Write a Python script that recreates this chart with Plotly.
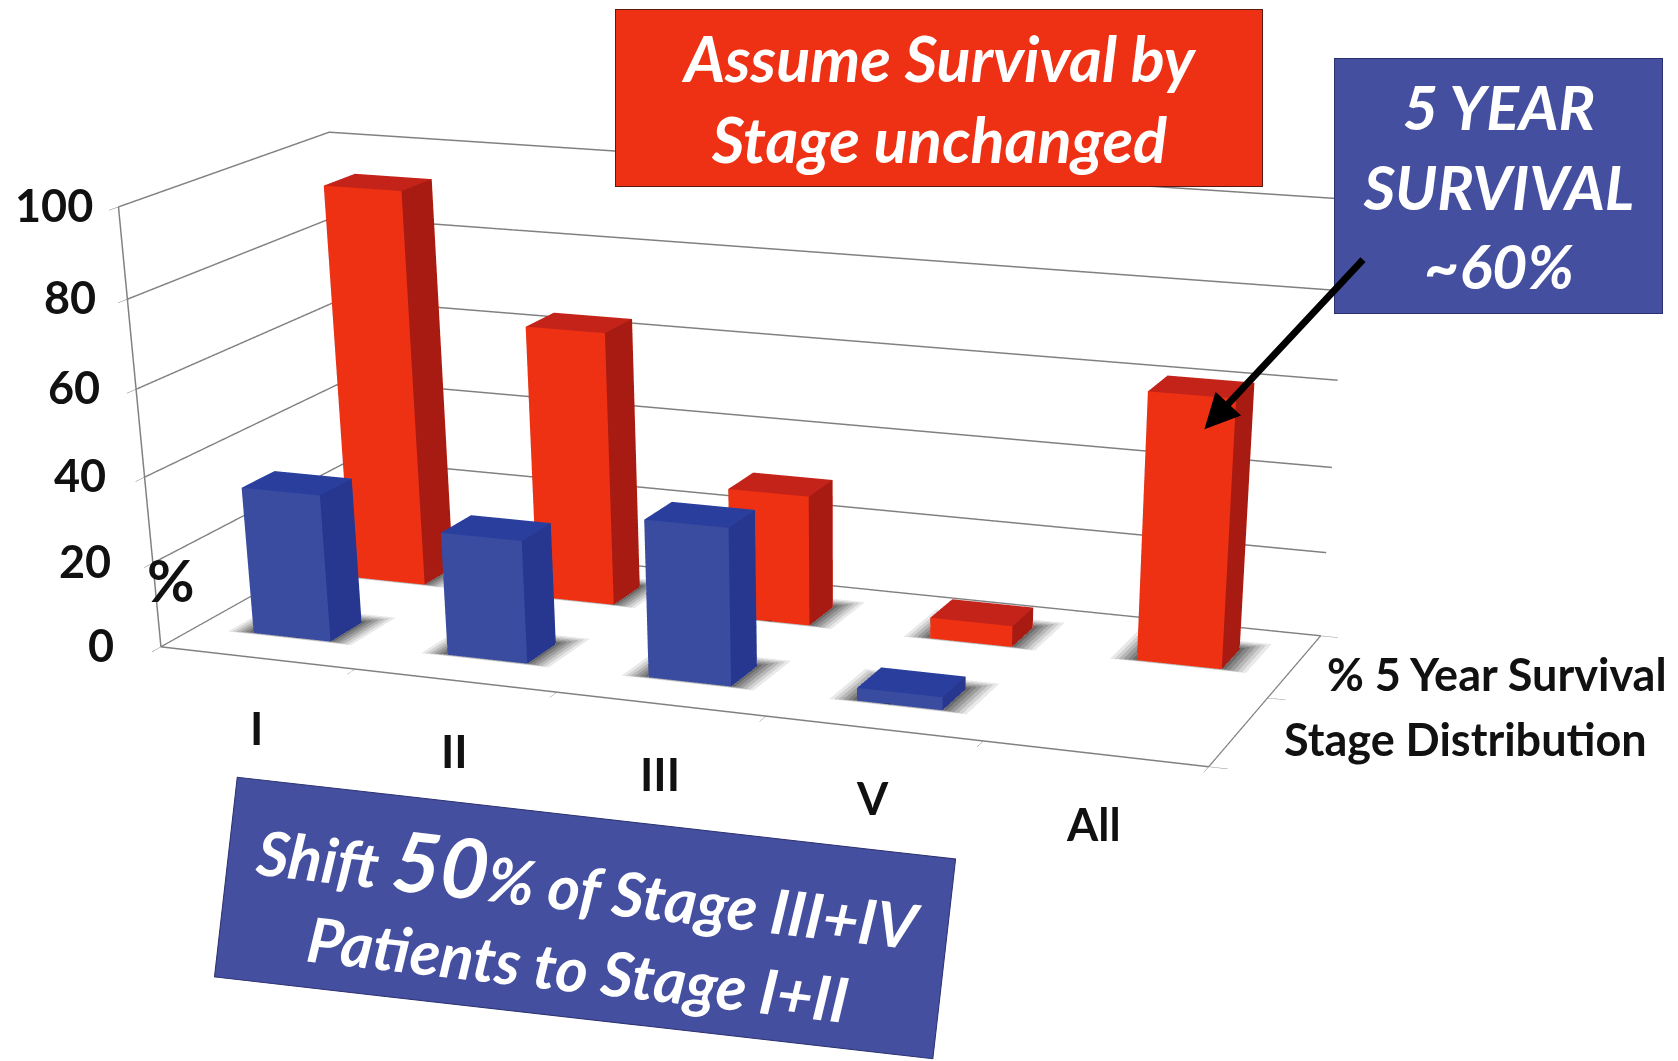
import plotly.graph_objects as go

categories = ["I", "II", "III", "V", "All"]
series_names = ["Stage Distribution", "% 5 Year Survival"]
stage_distribution = [34.7, 28.8, 36.5, 3, None]
five_year_survival = [94, 65, 31, 5, 62]
z_ticks = [0, 20, 40, 60, 80, 100]

RED = ("#EE3112", "#A81B13", "#C4231A")
BLUE = ("#3A4CA0", "#27368F", "#2A3E9E")
BAR_W = 0.40
BAR_D = 0.32
TEXT = "#111111"
LABEL_FONT = dict(family="Lato", size=45, color=TEXT, weight=700)
PAGE_H = 3000
Z_LABEL_DX = [-45, -40, -37, -34, -29, -23]
SERIES_LABEL_DX = [43, 30]


def py(frac_of_window):
    return 1 - (1 - frac_of_window) * 1061 / PAGE_H


def box(cx, cy, h, colors):
    x0, x1 = cx - BAR_W / 2, cx + BAR_W / 2
    y0, y1 = cy - BAR_D / 2, cy + BAR_D / 2
    xs = [x0, x1, x1, x0, x0, x1, x1, x0]
    ys = [y0, y0, y1, y1, y0, y0, y1, y1]
    zs = [0, 0, 0, 0, h, h, h, h]
    tri = [
        (0, 1, 5, 0), (0, 5, 4, 0),
        (1, 2, 6, 1), (1, 6, 5, 1),
        (4, 5, 6, 2), (4, 6, 7, 2),
        (3, 0, 4, 1), (3, 4, 7, 1),
        (2, 3, 7, 0), (2, 7, 6, 0),
    ]
    return go.Mesh3d(
        x=xs, y=ys, z=zs,
        i=[t[0] for t in tri], j=[t[1] for t in tri], k=[t[2] for t in tri],
        facecolor=[colors[t[3]] for t in tri],
        flatshading=True,
        lighting=dict(ambient=1, diffuse=0, specular=0, roughness=1, fresnel=0),
        hoverinfo="skip", showscale=False,
    )


def shadow(cx, cy, grow, opacity):
    x0, x1 = cx - BAR_W / 2 - grow, cx + BAR_W / 2 + grow
    y0, y1 = cy - BAR_D / 2 - grow * 0.25, cy + BAR_D / 2 + grow
    return go.Mesh3d(
        x=[x0, x1, x1, x0], y=[y0, y0, y1, y1], z=[0.2] * 4,
        i=[0, 0], j=[1, 2], k=[2, 3], color="#222222", opacity=opacity,
        flatshading=True,
        lighting=dict(ambient=1, diffuse=0, specular=0),
        hoverinfo="skip", showscale=False,
    )


fig = go.Figure()
for row, (vals, cols) in enumerate(((five_year_survival, RED), (stage_distribution, BLUE))):
    cy = 1.5 if row == 0 else 0.5
    for i, v in enumerate(vals):
        if v is None:
            continue
        for grow, op in ((0.12, 0.10), (0.1, 0.12), (0.08, 0.15), (0.06, 0.18), (0.04, 0.2), (0.02, 0.25)):
            fig.add_trace(shadow(i + 0.5, cy, grow, op))
        fig.add_trace(box(i + 0.5, cy, v, cols))

axis_common = dict(
    showbackground=True, backgroundcolor="white", showgrid=False, zeroline=False,
    showline=True, linecolor="#808080", linewidth=3, ticks="outside", tickcolor="#808080",
    ticklen=15, title=dict(text=""), showspikes=False, gridcolor="#808080", gridwidth=3,
    showticklabels=False,
)

scene_notes = []
for i, name in enumerate(categories):
    scene_notes.append(dict(x=i + 0.5, y=0, z=0, text=f"<b>{name}</b>", showarrow=False,
                            xanchor="center", yanchor="middle", yshift=-70, xshift=-1, font=LABEL_FONT))
for y_pos, name, dx in zip((0.5, 1.5), series_names, SERIES_LABEL_DX):
    scene_notes.append(dict(x=5, y=y_pos, z=0, text=f"<b>{name}</b>", showarrow=False,
                            xanchor="left", yanchor="middle", xshift=dx, yshift=-8, font=LABEL_FONT))
for t, dx in zip(z_ticks, Z_LABEL_DX):
    scene_notes.append(dict(x=0, y=0, z=t, text=f"<b>{t}</b>", showarrow=False,
                            xanchor="right", yanchor="middle", xshift=dx, yshift=2, font=LABEL_FONT))

fig.update_layout(
    width=1678, height=PAGE_H, margin=dict(l=0, r=0, t=0, b=0),
    paper_bgcolor="white", showlegend=False,
    scene=dict(
        domain=dict(x=[0, 1], y=[0, 1]),
        aspectmode="manual", aspectratio=dict(x=2.62, y=1.05, z=1.02),
        camera=dict(
            eye=dict(x=3.2066, y=-8.0759, z=2.086),
            center=dict(x=0.6746, y=-1.1164, z=-2.207),
            up=dict(x=0, y=0, z=1),
            projection=dict(type="perspective"),
        ),
        annotations=scene_notes,
        xaxis=dict(axis_common, range=[0, 5], tickmode="array",
                   tickvals=[0, 1, 2, 3, 4, 5]),
        yaxis=dict(axis_common, range=[0, 2], tickmode="array",
                   tickvals=[0, 1, 2]),
        zaxis=dict(axis_common, range=[0, 100], tickmode="array", showgrid=True,
                   tickvals=z_ticks),
    ),
    annotations=[
        dict(xref="paper", yref="paper", x=0.555, y=py(0.915), xanchor="center", yanchor="middle",
             text="<b><i>Assume Survival by<br>Stage unchanged</i></b>", showarrow=False,
             font=dict(family="Lato", size=63, color="white"), bgcolor="#EE3114",
             bordercolor="#5a1a10", borderwidth=1, width=644, height=174),
        dict(xref="paper", yref="paper", x=0.888, y=py(0.832), xanchor="center", yanchor="middle",
             text="<b><i>5 YEAR<br>SURVIVAL<br>~60%</i></b>", showarrow=False,
             font=dict(family="Lato", size=61, color="white"), bgcolor="#454F9F",
             bordercolor="#2a3070", borderwidth=1, width=325, height=252),
        dict(xref="paper", yref="paper", x=0.344, y=py(0.142), xanchor="center", yanchor="middle",
             text="<b><i>Shift <span style='font-size:83px'>50</span>% of Stage III+IV<br>Patients to Stage I+II</i></b>",
             showarrow=False, textangle=6.5,
             font=dict(family="Lato", size=62, color="white"), bgcolor="#454F9F",
             bordercolor="#2a3070", borderwidth=1, width=720, height=198),
        dict(xref="paper", yref="paper", x=0.097, y=py(0.461), xanchor="center", yanchor="middle",
             text="<b>%</b>", showarrow=False, font=dict(family="Lato", size=58, color=TEXT)),
        dict(xref="paper", yref="paper", axref="pixel", ayref="pixel", x=0.713, y=py(0.603),
             ax=160, ay=-171, text="", showarrow=True, arrowhead=2, arrowsize=1,
             arrowwidth=7, arrowcolor="black"),
    ],
)

fig.write_html("out.html")
